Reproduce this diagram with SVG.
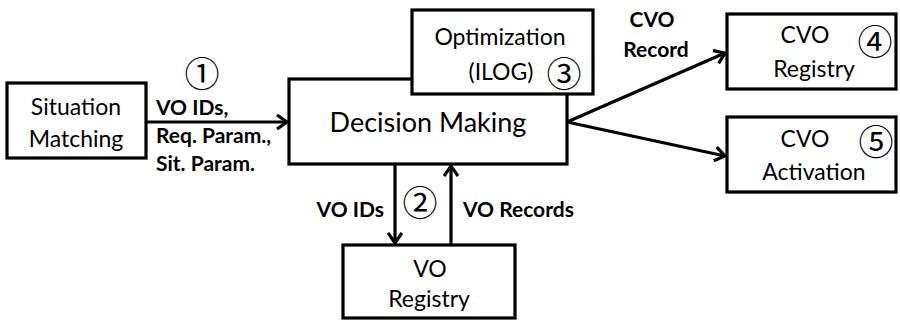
<svg xmlns="http://www.w3.org/2000/svg" width="900" height="321" viewBox="0 0 900 321">
  <style>
    .box { fill: #ffffff; stroke: #000000; stroke-width: 3.2; }
    .lbl { font-family: Lato, "Liberation Sans", Arial, sans-serif; font-size: 23px; fill: #000; text-anchor: middle; }
    .big { font-size: 27px; }
    .bold { font-family: Lato, "Liberation Sans", Arial, sans-serif; font-size: 21px; font-weight: bold; fill: #000; }
    .num { font-family: "Noto Sans CJK JP", "DejaVu Sans", sans-serif; font-size: 35px; fill: #000; text-anchor: middle; dominant-baseline: central; }
    .edge { fill: none; stroke: #000000; stroke-width: 3.2; }
  </style>
  <defs>
    <marker id="arrow" viewBox="0 0 12 16" refX="11" refY="8" markerWidth="12" markerHeight="16" markerUnits="userSpaceOnUse" orient="auto">
      <path d="M1,1 L11,8 L1,15" fill="none" stroke="#000" stroke-width="3.2" stroke-linejoin="miter"/>
    </marker>
  </defs>

  <rect width="900" height="321" fill="#ffffff"/>

  <!-- connectors -->
  <g id="connectors">
    <line class="edge" x1="147" y1="122" x2="287" y2="122" marker-end="url(#arrow)"/>
    <line class="edge" x1="567" y1="122" x2="725" y2="53" marker-end="url(#arrow)"/>
    <line class="edge" x1="567" y1="122" x2="725" y2="156" marker-end="url(#arrow)"/>
    <line class="edge" x1="395" y1="165" x2="395" y2="243" marker-end="url(#arrow)"/>
    <line class="edge" x1="451" y1="245" x2="451" y2="166" marker-end="url(#arrow)"/>
  </g>

  <!-- edge labels -->
  <g id="edge-labels">
    <text class="bold" x="156" y="115">VO IDs,</text>
    <text class="bold" x="156" y="143">Req. Param.,</text>
    <text class="bold" x="156" y="171">Sit. Param.</text>
    <text class="bold" x="652" y="27" text-anchor="middle">CVO</text>
    <text class="bold" x="656" y="57" text-anchor="middle">Record</text>
    <text class="bold" x="384" y="217" text-anchor="end">VO IDs</text>
    <text class="bold" x="463" y="217">VO Records</text>
    <text class="num" x="202" y="71">①</text>
    <text class="num" x="420" y="200">②</text>
  </g>

  <g id="situation-matching">
    <rect class="box" x="7" y="83" width="139" height="75"/>
    <text class="lbl" x="76" y="115">Situation</text>
    <text class="lbl" x="76" y="147">Matching</text>
  </g>

  <g id="decision-making">
    <rect class="box" x="289" y="79" width="278" height="85"/>
    <text class="lbl big" x="428" y="132">Decision Making</text>
  </g>

  <g id="optimization">
    <rect class="box" x="412" y="10" width="181" height="84"/>
    <text class="lbl" x="500" y="45">Optimization</text>
    <text class="lbl" x="501" y="80">(ILOG)</text>
    <text class="num" x="564" y="71">③</text>
  </g>

  <g id="cvo-registry">
    <rect class="box" x="727" y="14" width="169" height="75"/>
    <text class="lbl" x="805" y="43">CVO</text>
    <text class="lbl" x="814" y="77">Registry</text>
    <text class="num" x="875" y="39">④</text>
  </g>

  <g id="cvo-activation">
    <rect class="box" x="727" y="117" width="169" height="75"/>
    <text class="lbl" x="805" y="147">CVO</text>
    <text class="lbl" x="814" y="180">Activation</text>
    <text class="num" x="876" y="139">⑤</text>
  </g>

  <g id="vo-registry">
    <rect class="box" x="343" y="245" width="172" height="73"/>
    <text class="lbl" x="430" y="277">VO</text>
    <text class="lbl" x="429" y="307">Registry</text>
  </g>
</svg>
